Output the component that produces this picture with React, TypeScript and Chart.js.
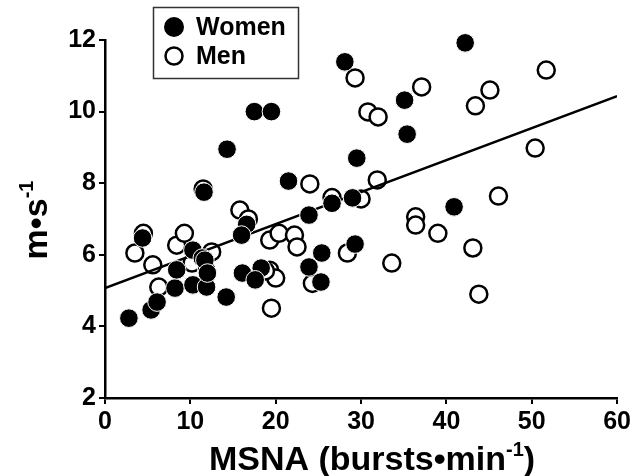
import React, { useEffect, useRef } from "react";
import { Chart, registerables } from "chart.js";

Chart.register(...registerables);

// ---- data ----
const womenX = [2.8, 5.4, 6.1, 4.4, 8.2, 8.4, 10.3, 11.4, 10.3, 11.9, 11.9, 11.7, 12.0, 11.6, 14.2, 14.3, 16.1, 16.6, 16.0, 18.3, 17.6, 17.5, 19.5, 21.5, 23.9, 23.9, 25.4, 25.3, 26.6, 29.0, 29.3, 29.5, 28.1, 35.1, 35.4, 40.9, 42.2];
const womenY = [4.23, 4.46, 4.68, 6.47, 5.07, 5.58, 6.13, 5.91, 5.16, 5.10, 5.58, 5.85, 5.49, 7.75, 4.82, 8.95, 5.49, 6.85, 6.55, 5.63, 5.30, 10.0, 10.0, 8.06, 7.11, 5.66, 6.05, 5.24, 7.44, 7.59, 6.30, 8.70, 11.39, 10.32, 9.37, 7.34, 11.92];

const menX = [3.5, 4.5, 5.6, 6.3, 8.4, 9.3, 10.2, 11.5, 12.5, 15.8, 16.8, 19.3, 20.4, 22.2, 22.5, 19.3, 20.0, 19.5, 18.8, 24.0, 24.3, 26.6, 30.0, 28.4, 31.9, 29.3, 30.8, 32.0, 37.1, 33.6, 36.4, 36.4, 39.0, 43.1, 43.8, 43.4, 45.1, 46.1, 50.4, 51.7];
const menY = [6.05, 6.60, 5.72, 5.10, 6.27, 6.60, 5.77, 7.84, 6.08, 7.25, 7.00, 6.41, 6.60, 6.55, 6.22, 5.57, 5.35, 4.51, 5.55, 7.98, 5.20, 7.60, 7.56, 6.05, 8.09, 10.94, 9.99, 9.85, 10.69, 5.77, 7.06, 6.83, 6.60, 6.19, 4.90, 10.16, 10.60, 7.64, 8.98, 11.16];

const fitX = [0, 60];
const fitY = [5.07, 10.43];

const seriesNames = ["Women", "Men"];
const xTitle = "MSNA (bursts•min";
const xTitleSup = "-1";
const xTitleEnd = ")";
const yTitle = "m•s";
const yTitleSup = "-1";

const FONT = "'Liberation Sans', Arial, Helvetica, sans-serif";

const zip = (xs: number[], ys: number[]) => xs.map((x, i) => ({ x, y: ys[i] }));

const decorPlugin = {
  id: "decor",
  afterDraw(chart: any) {
    const ctx: CanvasRenderingContext2D = chart.ctx;
    const area = chart.chartArea;
    ctx.save();
    ctx.fillStyle = "#000";
    ctx.textBaseline = "alphabetic";

    // x title with superscript
    const mainF = `bold 34px ${FONT}`;
    const supF = `bold 20px ${FONT}`;
    ctx.font = mainF;
    const w1 = ctx.measureText(xTitle).width;
    const w3 = ctx.measureText(xTitleEnd).width;
    ctx.font = supF;
    const w2 = ctx.measureText(xTitleSup).width;
    const total = w1 + w2 + w3;
    const cx = 372;
    const x0 = cx - total / 2;
    const by = 470;
    ctx.font = mainF;
    ctx.textAlign = "left";
    ctx.fillText(xTitle, x0, by);
    ctx.font = supF;
    ctx.fillText(xTitleSup, x0 + w1, by - 14);
    ctx.font = mainF;
    ctx.fillText(xTitleEnd, x0 + w1 + w2, by);

    // y title rotated
    ctx.save();
    ctx.translate(47, (area.top + area.bottom) / 2 + 1);
    ctx.rotate(-Math.PI / 2);
    ctx.font = mainF;
    const yw1 = ctx.measureText(yTitle).width;
    ctx.font = supF;
    const yw2 = ctx.measureText(yTitleSup).width;
    const yx0 = -(yw1 + yw2) / 2;
    ctx.font = mainF;
    ctx.fillText(yTitle, yx0, 0);
    ctx.font = supF;
    ctx.fillText(yTitleSup, yx0 + yw1, -14);
    ctx.restore();

    // legend box
    ctx.lineWidth = 1.5;
    ctx.strokeStyle = "#333";
    ctx.fillStyle = "#fff";
    ctx.fillRect(153, 7, 146, 72);
    ctx.strokeRect(153.5, 7.5, 145, 71);
    // women marker
    ctx.fillStyle = "#000";
    ctx.beginPath();
    ctx.arc(174, 27, 10, 0, Math.PI * 2);
    ctx.fill();
    // men marker
    ctx.lineWidth = 2.5;
    ctx.strokeStyle = "#000";
    ctx.beginPath();
    ctx.arc(174, 56, 8.5, 0, Math.PI * 2);
    ctx.stroke();
    ctx.font = `bold 25px ${FONT}`;
    ctx.textBaseline = "middle";
    ctx.fillStyle = "#000";
    ctx.fillText(seriesNames[0], 196, 28);
    ctx.fillText(seriesNames[1], 196, 57);
    ctx.restore();
  },
};

export default function App() {
  const ref = useRef<HTMLCanvasElement | null>(null);
  useEffect(() => {
    if (!ref.current) return;
    const chart = new Chart(ref.current, {
      type: "scatter",
      data: {
        datasets: [
          {
            label: seriesNames[0],
            data: zip(womenX, womenY),
            backgroundColor: "#000",
            borderColor: "#fff",
            borderWidth: 1,
            pointRadius: 9.3,
            clip: false,
            order: 0,
          },
          {
            type: "line",
            label: "fit",
            data: zip(fitX, fitY),
            borderColor: "#000",
            borderWidth: 2.5,
            pointRadius: 0,
            fill: false,
            order: 1,
          } as any,
          {
            label: seriesNames[1],
            data: zip(menX, menY),
            backgroundColor: "#fff",
            borderColor: "#000",
            borderWidth: 2.5,
            pointRadius: 8.5,
            clip: false,
            order: 2,
          },
        ],
      },
      options: {
        responsive: false,
        animation: false,
        layout: { padding: { top: 40, right: 15, left: 0, bottom: 0 } },
        plugins: { legend: { display: false }, tooltip: { enabled: false } },
        scales: {
          x: {
            type: "linear",
            min: 0,
            max: 60,
            ticks: { stepSize: 10, color: "#000", font: { family: FONT, size: 25, weight: "bold" }, padding: 3 },
            grid: { drawOnChartArea: false, drawTicks: true, tickLength: 6, color: "#000", lineWidth: 2 },
            border: { color: "#000", width: 2.5 },
            afterFit: (s: any) => { s.height = 78; },
          },
          y: {
            type: "linear",
            min: 2,
            max: 12,
            ticks: { stepSize: 2, color: "#000", font: { family: FONT, size: 25, weight: "bold" }, padding: 3 },
            grid: { drawOnChartArea: false, drawTicks: true, tickLength: 6, color: "#000", lineWidth: 2 },
            border: { color: "#000", width: 2.5 },
            afterFit: (s: any) => { s.width = 105; },
          },
        },
      } as any,
      plugins: [decorPlugin],
    });
    return () => chart.destroy();
  }, []);
  return (
    <div style={{ position: "fixed", left: 0, top: 0, width: 634, height: 476, background: "#fff" }}>
      <canvas ref={ref} width={634} height={476} style={{ display: "block" }} />
    </div>
  );
}
